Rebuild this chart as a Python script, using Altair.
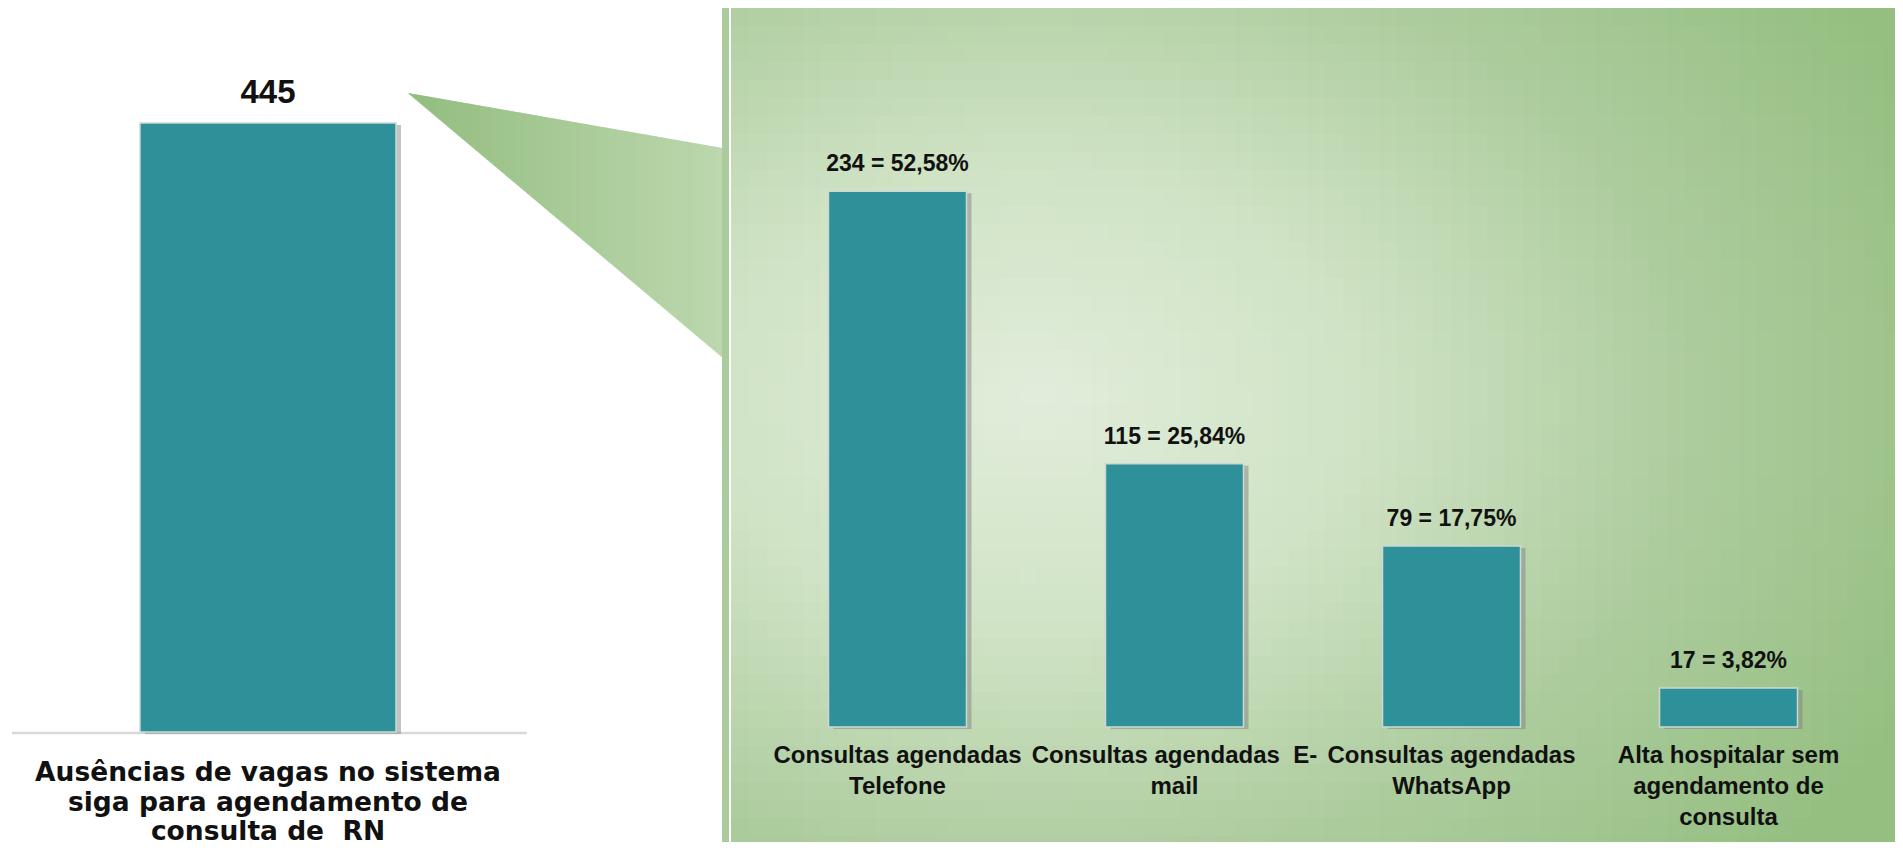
import altair as alt
import pandas as pd

# ---------------- data ----------------
total_category = ["Ausências de vagas no sistema\nsiga para agendamento de\nconsulta de\u00a0 RN"]
total_values = [445]

categories = [
    "Consultas agendadas\nTelefone",
    "Consultas agendadas\u00a0 E-\nmail",
    "Consultas agendadas\nWhatsApp",
    "Alta hospitalar sem\nagendamento de\nconsulta",
]
values = [234, 115, 79, 17]

value_labels = [
    f"{v} = {v / total_values[0] * 100:.2f}".replace(".", ",") + "%" for v in values
]

# ---------------- layout / style constants ----------------
H = 834
LEFT_W = 520
CONN_W = 203
RIGHT_W = 1164

TEAL = "#2e9199"
BAR_EDGE = "#cdd7d6"
SHADOW = "#7a7a7a"
TXT = "#111111"
FONT = "Liberation Sans, Arial, sans-serif"
FONT_WIDE = "DejaVu Sans, Liberation Sans, sans-serif"

L_BASE, L_TOP = 724, 115
k_left = (L_BASE - L_TOP) / total_values[0]
left_domain = [-(H - L_BASE) / k_left, L_BASE / k_left]

R_BASE, k_right = 719, 2.29
right_domain = [-(H - R_BASE) / k_right, R_BASE / k_right]

# connector wedge (pixels, relative to connector panel)
APEX_X, BASE_X = -120, 194
APEX_Y, BASE_TOP, BASE_BOT = 85, 140, 349
WEDGE_COLORS = ["#8fba7a", "#b9d6ab"]

# background panel radial shading
CELL = 18
PANEL_X0 = CONN_W
CX, CY, RX, RY = 0.26 * RIGHT_W, 0.47 * H, 0.8 * RIGHT_W, 0.8 * H
PANEL_STOPS = [0, 0.35, 0.7, 1.05]
PANEL_COLORS = ["#e1eddb", "#d0e3c5", "#adcc9e", "#95bf81"]

# ---------------- left panel ----------------
left_df = pd.DataFrame({"cat": total_category, "value": total_values})

lx = alt.X("cat:N", axis=None, scale=alt.Scale(paddingInner=0, paddingOuter=0))
ly = alt.Y("value:Q", axis=None,
           scale=alt.Scale(domain=left_domain, nice=False, zero=False))

left_base = alt.Chart(left_df)

l_rule = left_base.mark_rule(color="#d9d9d9", strokeWidth=2.5).encode(
    x=alt.value(4), x2=alt.value(519), y=alt.value(L_BASE + 1)
)
l_shadow = left_base.mark_bar(size=256, color=SHADOW, opacity=0.45,
                              xOffset=5, yOffset=2).encode(x=lx, y=ly)
l_bar = left_base.mark_bar(size=256, color=TEAL, stroke=BAR_EDGE,
                           strokeWidth=1.5).encode(x=lx, y=ly)
l_val = left_base.mark_text(font=FONT, fontSize=33, fontWeight="bold",
                            color=TXT, baseline="alphabetic", dy=-20).encode(
    x=lx, y=ly, text="value:Q"
)
l_cat = left_base.mark_text(font=FONT_WIDE, fontSize=26.5, fontWeight="bold",
                            color=TXT, baseline="middle", lineBreak="\n",
                            lineHeight=29.5).encode(
    x=lx, y=alt.value(765), text="cat:N"
)

left = alt.layer(l_rule, l_shadow, l_bar, l_val, l_cat).properties(
    width=LEFT_W, height=H
)

# ---------------- connector wedge + panel background ----------------
px_x = alt.Scale(domain=[0, CONN_W], nice=False, zero=False)
px_y = alt.Scale(domain=[0, H], nice=False, zero=False, reverse=True)

n_slices = BASE_X - APEX_X
wedge = alt.Chart(alt.sequence(0, n_slices + 1, as_="s")).transform_calculate(
    t=f"datum.s / {n_slices}",
    x=f"{APEX_X} + datum.s",
    top=f"{APEX_Y} + datum.t * {BASE_TOP - APEX_Y}",
    bot=f"{APEX_Y} + datum.t * {BASE_BOT - APEX_Y}",
).mark_rule(strokeWidth=1.6).encode(
    x=alt.X("x:Q", axis=None, scale=px_x),
    y=alt.Y("top:Q", axis=None, scale=px_y),
    y2="bot:Q",
    stroke=alt.Stroke("t:Q", legend=None,
                      scale=alt.Scale(domain=[0, 1], range=WEDGE_COLORS,
                                      interpolate="rgb")),
)

strip_df = pd.DataFrame({"x": [BASE_X], "x2": [BASE_X + 7], "y": [0], "y2": [H]})
strip = alt.Chart(strip_df).mark_rect(color="#abcb9c").encode(
    x=alt.X("x:Q", axis=None, scale=px_x), x2="x2:Q",
    y=alt.Y("y:Q", axis=None, scale=px_y), y2="y2:Q",
)

nx = -(-RIGHT_W // CELL)
ny = -(-H // CELL)
grid = alt.Chart(alt.sequence(0, nx * ny, as_="i")).transform_calculate(
    gx=f"datum.i % {nx}",
    gy=f"floor(datum.i / {nx})",
).transform_calculate(
    x=f"{PANEL_X0} + datum.gx * {CELL}",
    x2=f"{PANEL_X0} + min((datum.gx + 1) * {CELL}, {RIGHT_W})",
    y=f"datum.gy * {CELL}",
    y2=f"min((datum.gy + 1) * {CELL}, {H})",
    d=f"sqrt(pow(((datum.gx + 0.5) * {CELL} - {CX}) / {RX}, 2) + "
      f"pow(((datum.gy + 0.5) * {CELL} - {CY}) / {RY}, 2))",
).mark_rect(strokeWidth=0).encode(
    x=alt.X("x:Q", axis=None, scale=px_x), x2="x2:Q",
    y=alt.Y("y:Q", axis=None, scale=px_y), y2="y2:Q",
    fill=alt.Fill("d:Q", legend=None,
                  scale=alt.Scale(domain=PANEL_STOPS, range=PANEL_COLORS,
                                  interpolate="rgb", clamp=True)),
)

connector = alt.layer(wedge, strip, grid).properties(width=CONN_W, height=H)

# ---------------- right panel (bars) ----------------
right_df = pd.DataFrame({"cat": categories, "value": values, "label": value_labels})
rx = alt.X("cat:N", sort=categories, axis=None,
           scale=alt.Scale(paddingInner=0.502, paddingOuter=0.352))
ry = alt.Y("value:Q", axis=None,
           scale=alt.Scale(domain=right_domain, nice=False, zero=False))
rb = alt.Chart(right_df)

r_shadow = rb.mark_bar(size=138, color=SHADOW, opacity=0.45,
                       xOffset=5, yOffset=2).encode(x=rx, y=ry)
r_bar = rb.mark_bar(size=138, color=TEAL, stroke=BAR_EDGE,
                    strokeWidth=1.5).encode(x=rx, y=ry)
r_val = rb.mark_text(font=FONT, fontSize=23, fontWeight="bold", color=TXT,
                     baseline="alphabetic", dy=-20).encode(x=rx, y=ry, text="label:N")
r_cat = rb.mark_text(font=FONT, fontSize=24, fontWeight="bold", color=TXT,
                     baseline="top", lineBreak="\n", lineHeight=31).encode(
    x=rx, y=alt.value(736), text="cat:N"
)

right = alt.layer(r_shadow, r_bar, r_val, r_cat).properties(
    width=RIGHT_W, height=H
)

chart = alt.hconcat(left, connector, right, spacing=0, bounds="flush").properties(
    padding=0
).configure_view(stroke=None)

chart.save("out.html", embed_options={"renderer": "svg", "actions": False})
